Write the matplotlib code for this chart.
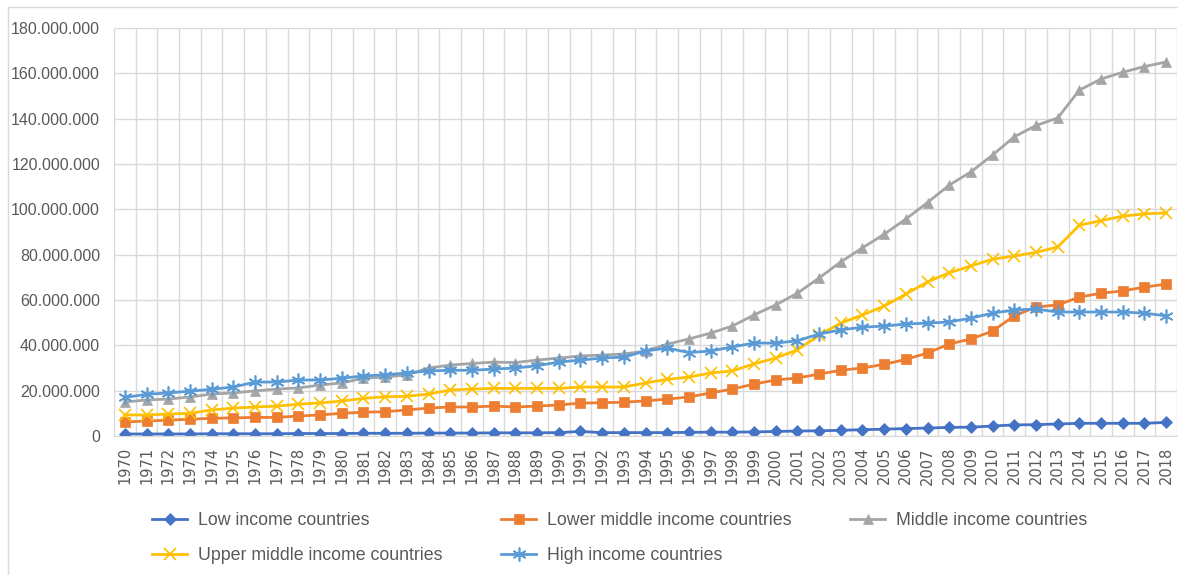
import numpy as np
import matplotlib
matplotlib.use("Agg")
import matplotlib.pyplot as plt
from matplotlib.ticker import FuncFormatter
from matplotlib.lines import Line2D

years = [str(y) for y in range(1970, 2019)]

# values in millions
low = [0.9, 0.9, 0.9, 0.9, 1.0, 1.0, 1.0, 1.0, 1.1, 1.1,
       1.1, 1.2, 1.2, 1.2, 1.3, 1.3, 1.3, 1.4, 1.4, 1.4,
       1.5, 2.0, 1.5, 1.5, 1.5, 1.5, 1.6, 1.7, 1.7, 1.8,
       2.0, 2.2, 2.3, 2.5, 2.8, 3.0, 3.3, 3.5, 3.8, 3.9,
       4.4, 4.9, 5.0, 5.3, 5.6, 5.6, 5.6, 5.6, 6.0]
lower_mid = [6.2, 6.6, 7.0, 7.4, 7.8, 8.0, 8.2, 8.2, 8.8, 9.3,
             10.0, 10.5, 10.7, 11.5, 12.3, 12.8, 12.8, 13.2, 12.8, 13.2,
             13.7, 14.5, 14.7, 14.9, 15.5, 16.3, 17.2, 19.0, 20.7, 22.9,
             24.7, 25.6, 27.3, 29.0, 30.0, 31.6, 33.8, 36.6, 40.6, 42.8,
             46.3, 53.0, 56.9, 57.8, 61.3, 63.0, 64.0, 65.7, 67.0]
middle = [15.0, 15.9, 16.3, 17.2, 18.5, 19.0, 19.9, 20.7, 21.2, 22.5,
          23.4, 25.5, 26.0, 27.0, 30.0, 31.3, 32.0, 32.6, 32.4, 33.5,
          34.4, 35.3, 35.7, 36.2, 37.5, 40.5, 42.8, 45.4, 48.5, 53.4,
          57.8, 63.0, 69.7, 76.8, 83.0, 89.0, 95.7, 103.0, 110.7, 116.5,
          124.0, 132.0, 137.0, 140.3, 152.6, 157.5, 160.5, 163.0, 165.0]
upper_mid = [9.3, 9.3, 9.7, 10.0, 11.5, 12.3, 12.8, 13.2, 14.0, 14.6,
             15.4, 16.6, 17.3, 17.5, 18.5, 20.3, 20.7, 21.0, 21.0, 21.0,
             21.0, 21.6, 21.6, 21.6, 23.4, 25.0, 26.0, 27.8, 28.7, 31.8,
             34.4, 38.0, 44.5, 49.8, 53.4, 57.3, 62.6, 68.0, 72.0, 75.0,
             78.0, 79.4, 81.0, 83.4, 93.0, 95.0, 97.0, 98.0, 98.4]
high = [17.0, 18.4, 19.0, 19.8, 20.6, 21.6, 23.8, 23.8, 24.7, 24.7,
        25.5, 26.5, 27.0, 27.8, 28.7, 29.0, 29.0, 29.5, 30.0, 31.0,
        32.6, 33.5, 34.4, 34.8, 37.5, 38.8, 36.8, 37.5, 39.3, 41.0,
        41.0, 42.0, 45.0, 46.8, 48.0, 48.5, 49.4, 49.8, 50.3, 52.0,
        54.2, 55.6, 56.0, 54.7, 54.7, 54.7, 54.7, 54.2, 53.0]

series = [
    ("Low income countries", low, "#4472C4", "D", 6),
    ("Lower middle income countries", lower_mid, "#ED7D31", "s", 7),
    ("Middle income countries", middle, "#A5A5A5", "^", 7.5),
    ("Upper middle income countries", upper_mid, "#FFC000", "x", 8),
    ("High income countries", high, "#5B9BD5", (6, 2, 0), 10),
]

plt.rcParams['font.family'] = ['Liberation Sans', 'DejaVu Sans']

fig = plt.figure(figsize=(11.78, 5.75), dpi=100)
ax = fig.add_axes([114 / 1178, 1 - 436 / 575, (1177 - 114) / 1178, (436 - 28) / 575])

x = np.arange(len(years))
handles = {}
for name, vals, col, mk, ms in series:
    h, = ax.plot(x, np.array(vals) * 1e6, color=col, lw=2, marker=mk,
                 markersize=ms, markeredgewidth=1.2 if mk in ("x", (6, 2, 0)) else 0.5,
                 label=name)
    handles[name] = h

ax.set_xlim(-0.5, len(years) - 0.5)
ax.set_ylim(0, 180e6)
ax.set_yticks(np.arange(0, 180e6 + 1, 20e6))
ax.yaxis.set_major_formatter(FuncFormatter(lambda v, p: f"{v:,.0f}".replace(",", ".")))
ax.set_xticks(x)
ax.set_xticklabels(years, rotation=90, fontfamily='DejaVu Sans', fontsize=10.5, color="#595959")
ax.set_xticks(np.arange(-0.5, len(years), 1), minor=True)
ax.tick_params(axis='y', length=0, labelsize=11.5, labelcolor="#595959", pad=10)
ax.tick_params(axis='x', which='major', length=0, pad=8)
ax.tick_params(axis='x', which='minor', length=0)
ax.grid(axis='y', which='major', color="#D9D9D9", lw=1)
ax.grid(axis='x', which='minor', color="#D9D9D9", lw=1)
ax.set_axisbelow(True)
for s in ("top", "right", "left"):
    ax.spines[s].set_visible(False)
ax.spines["bottom"].set_color("#D9D9D9")

order = ["Low income countries", "Upper middle income countries",
         "Lower middle income countries", "High income countries",
         "Middle income countries"]
fig.legend([handles[n] for n in order], order, ncol=3, frameon=False,
           loc="upper left", bbox_to_anchor=(136 / 1178, 1 - 496 / 575),
           fontsize=12.8, labelcolor="#595959", handlelength=1.97,
           handletextpad=0.62, columnspacing=3.3, labelspacing=1.0)

# outer chart border
fig.add_artist(Line2D([8 / 1178, 1], [1 - 7 / 575, 1 - 7 / 575], color="#D9D9D9", lw=1))
fig.add_artist(Line2D([8 / 1178, 8 / 1178], [0, 1 - 7 / 575], color="#D9D9D9", lw=1))

fig.savefig("out.png", dpi=100)
